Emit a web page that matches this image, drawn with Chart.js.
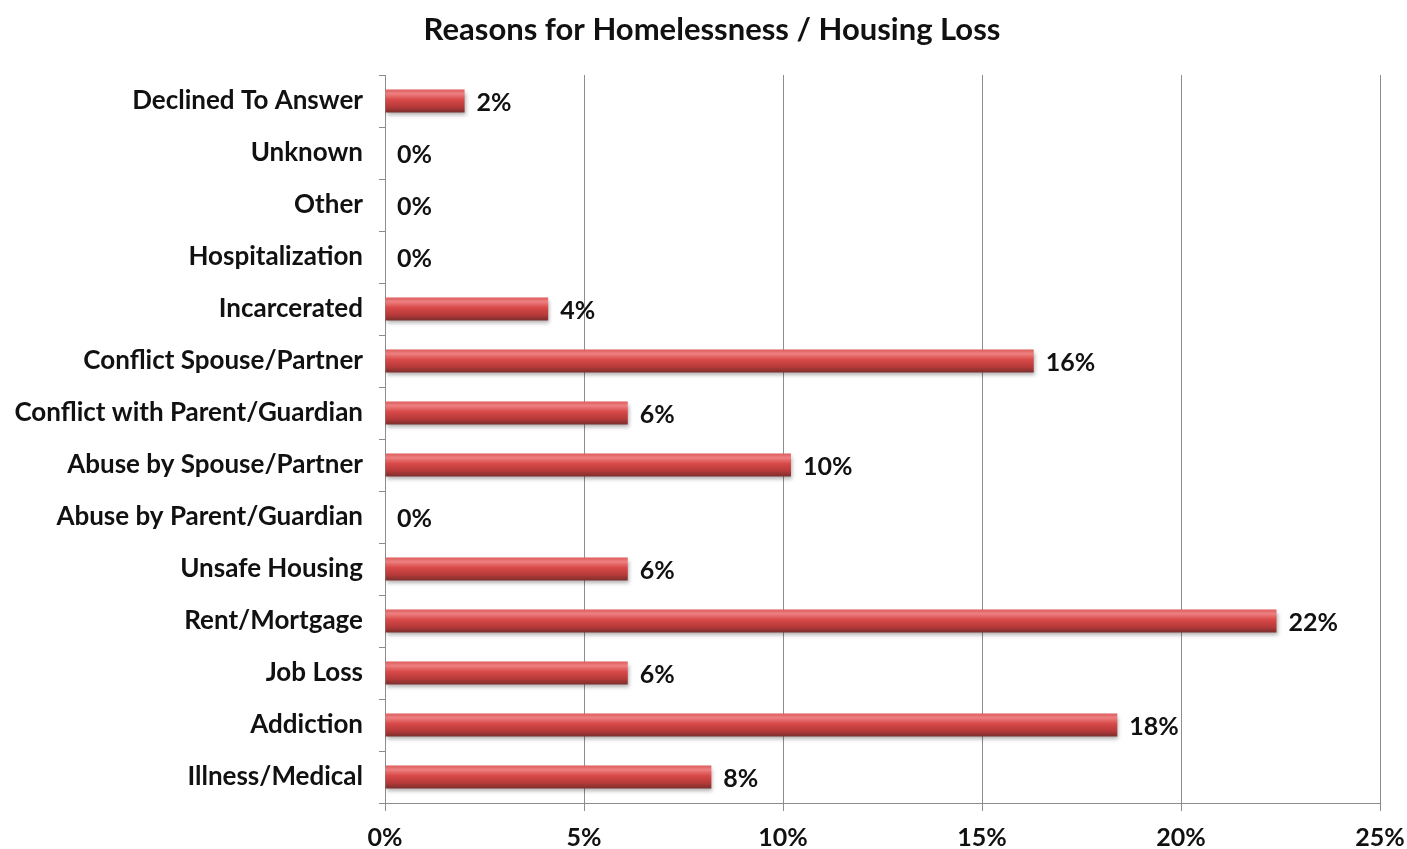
<!DOCTYPE html>
<html>
<head>
<meta charset="utf-8">
<title>Reasons for Homelessness / Housing Loss</title>
<script src="https://cdn.jsdelivr.net/npm/chart.js@4.4.1/dist/chart.umd.min.js"></script>
<style>
  html, body { margin: 0; padding: 0; background: #ffffff; }
  #wrap { width: 1407px; height: 849px; position: relative; }
</style>
</head>
<body>
<div id="wrap"><canvas id="reasonsChart"></canvas></div>
<script>
// Categories, listed top to bottom
const reasons = [
    'Declined To Answer',
    'Unknown',
    'Other',
    'Hospitalization',
    'Incarcerated',
    'Conflict Spouse/Partner',
    'Conflict with Parent/Guardian',
    'Abuse by Spouse/Partner',
    'Abuse by Parent/Guardian',
    'Unsafe Housing',
    'Rent/Mortgage',
    'Job Loss',
    'Addiction',
    'Illness/Medical'
];

// Share of respondents (%)
const shares = [2.0, 0, 0, 0, 4.1, 16.3, 6.1, 10.2, 0, 6.1, 22.4, 6.1, 18.4, 8.2];

// Axis ticks (%)
const axisTicks = [0, 5, 10, 15, 20, 25];

const TITLE = 'Reasons for Homelessness / Housing Loss';
const FONT = 'Lato, "Open Sans", sans-serif';
const BAR_PCT = 0.44;

// Vertical gradient per bar to give the rounded tube look
function barGradient(context) {
    const chart = context.chart;
    const yScale = chart.scales.y;
    if (!yScale || !chart.chartArea) return '#c83a3a';
    const yc = yScale.getPixelForValue(context.dataIndex);
    const band = (chart.chartArea.bottom - chart.chartArea.top) / reasons.length;
    const h = band * BAR_PCT;
    const g = chart.ctx.createLinearGradient(0, yc - h / 2, 0, yc + h / 2);
    g.addColorStop(0, '#dc5c5c');
    g.addColorStop(0.18, '#ee8080');
    g.addColorStop(0.45, '#d84848');
    g.addColorStop(0.75, '#b83a3a');
    g.addColorStop(1, '#7c2e2e');
    return g;
}

// Soft drop shadow under the bars
const barShadow = {
    id: 'barShadow',
    beforeDatasetsDraw(chart) {
        const ctx = chart.ctx;
        ctx.save();
        ctx.shadowColor = 'rgba(0,0,0,0.3)';
        ctx.shadowBlur = 4;
        ctx.shadowOffsetX = 1;
        ctx.shadowOffsetY = 3;
    },
    afterDatasetsDraw(chart) {
        chart.ctx.restore();
    }
};

// Percentage labels at the end of each bar
const valueLabels = {
    id: 'valueLabels',
    afterDatasetsDraw(chart) {
        const ctx = chart.ctx;
        const meta = chart.getDatasetMeta(0);
        ctx.save();
        ctx.font = 'bold 25px ' + FONT;
        ctx.fillStyle = '#111111';
        ctx.textAlign = 'left';
        ctx.textBaseline = 'middle';
        meta.data.forEach((bar, i) => {
            const txt = Math.round(shares[i]) + '%';
            ctx.fillText(txt, bar.x + 12, bar.y + 2);
        });
        ctx.restore();
    }
};

// Chart title, centred on the page
const pageTitle = {
    id: 'pageTitle',
    afterDraw(chart) {
        const ctx = chart.ctx;
        ctx.save();
        ctx.font = 'bold 31px ' + FONT;
        ctx.fillStyle = '#111111';
        ctx.textAlign = 'center';
        ctx.textBaseline = 'middle';
        ctx.fillText(TITLE, 712, 30);
        ctx.restore();
    }
};

new Chart(document.getElementById('reasonsChart'), {
    type: 'bar',
    data: {
        labels: reasons,
        datasets: [{
            data: shares,
            backgroundColor: barGradient,
            borderWidth: 0,
            barPercentage: BAR_PCT,
            categoryPercentage: 1.0
        }]
    },
    options: {
        indexAxis: 'y',
        responsive: true,
        maintainAspectRatio: false,
        animation: false,
        layout: { padding: { left: 0, right: 27, top: 75, bottom: 0 } },
        plugins: {
            legend: { display: false },
            tooltip: { enabled: false },
            title: { display: false }
        },
        scales: {
            x: {
                min: 0,
                max: 25,
                afterBuildTicks: (scale) => {
                    scale.ticks = axisTicks.map(v => ({ value: v }));
                },
                afterFit: (scale) => {
                    scale.height = 46;
                    scale.paddingLeft = 0;
                    scale.paddingRight = 0;
                },
                grid: {
                    color: '#8c8c8c',
                    lineWidth: 1,
                    drawTicks: true,
                    tickLength: 8
                },
                border: { color: '#8c8c8c' },
                ticks: {
                    color: '#111111',
                    font: { family: FONT, size: 25, weight: 'bold' },
                    padding: 12,
                    callback: (v) => v + '%'
                }
            },
            y: {
                offset: true,
                afterFit: (scale) => { scale.width = 385; },
                grid: {
                    drawOnChartArea: false,
                    drawTicks: true,
                    tickLength: 6,
                    offset: true,
                    color: '#8c8c8c'
                },
                border: { color: '#8c8c8c' },
                ticks: {
                    color: '#111111',
                    font: { family: FONT, size: 26, weight: 'bold' },
                    padding: 16
                }
            }
        }
    },
    plugins: [barShadow, valueLabels, pageTitle]
});
</script>
</body>
</html>
